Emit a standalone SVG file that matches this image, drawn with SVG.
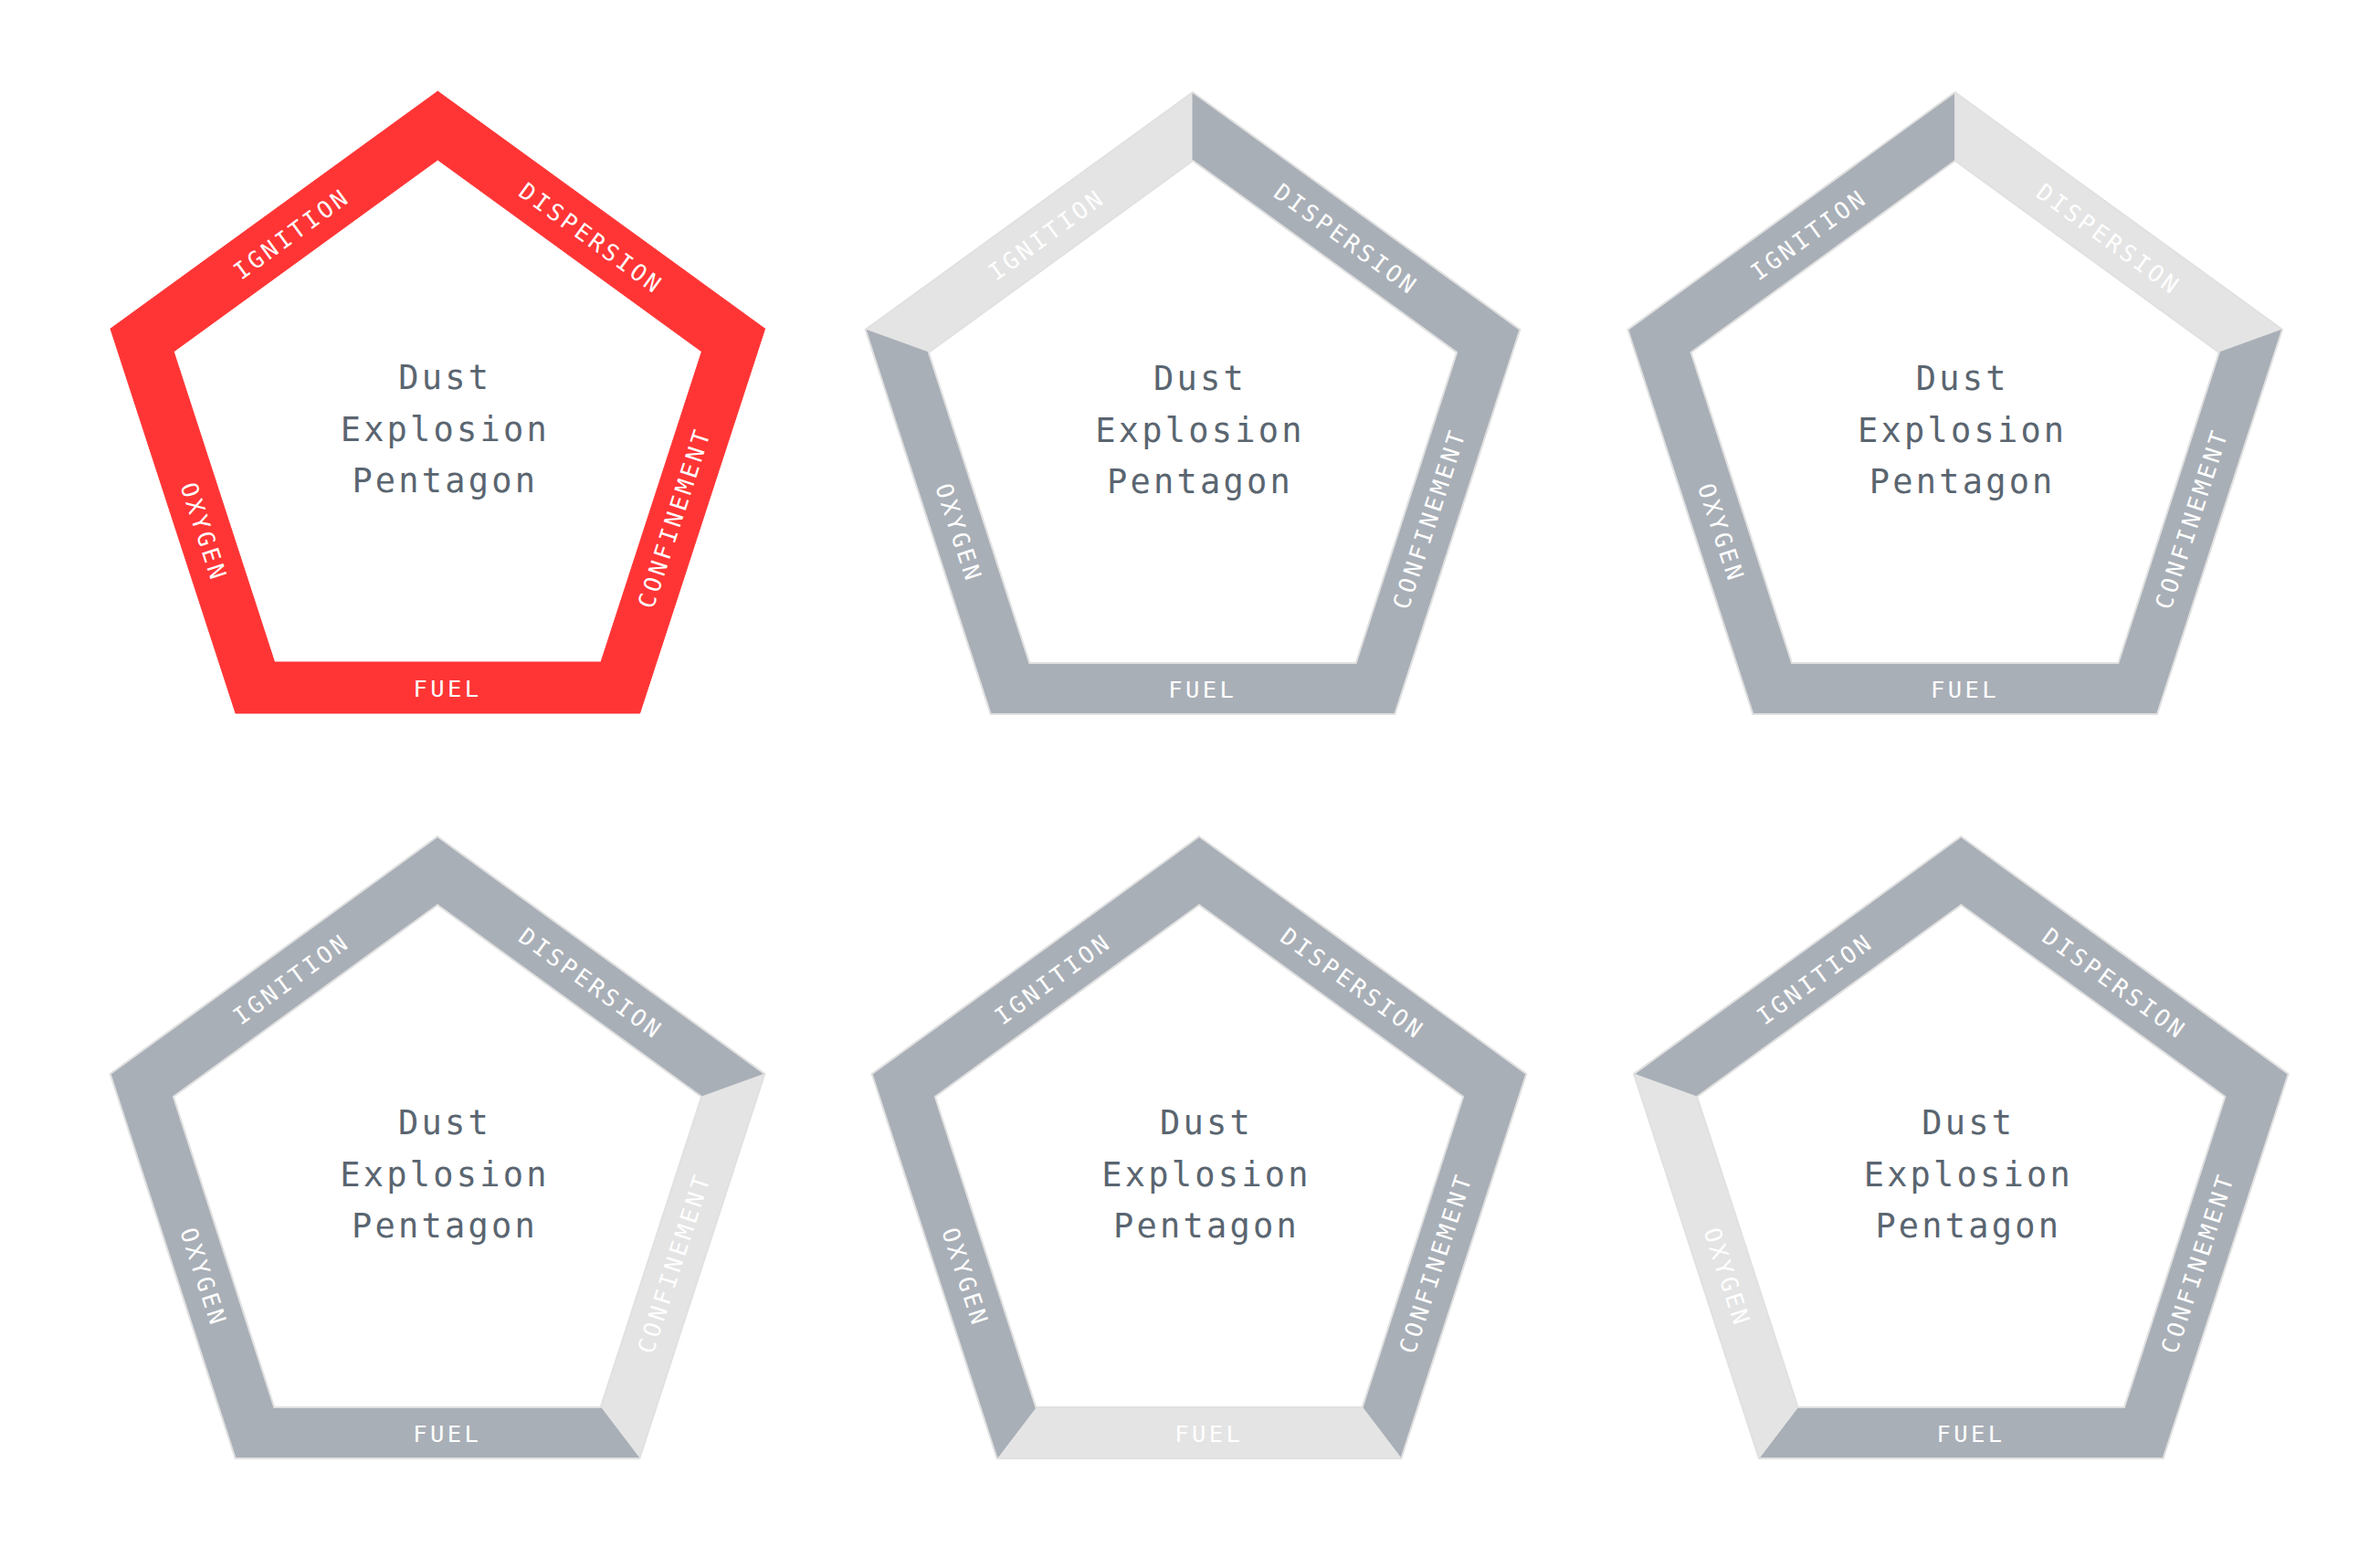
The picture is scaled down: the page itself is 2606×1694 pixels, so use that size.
<svg xmlns="http://www.w3.org/2000/svg" width="2606" height="1694" viewBox="0 0 2606 1694">
<style>
.red{fill:#ff3535;stroke:#ff3535;stroke-width:1}
.gry{fill:#a9afb7;stroke:#a9afb7;stroke-width:1}
.lit{fill:#e4e4e4;stroke:#e4e4e4;stroke-width:1}
.edge{fill:none;stroke:#e1e1e1;stroke-width:2;stroke-linejoin:miter}
.lab{font-family:"DejaVu Sans Mono","Liberation Mono",monospace;font-size:25.5px;letter-spacing:3.4px;fill:#ffffff;text-anchor:middle}
.ctr{font-family:"DejaVu Sans Mono","Liberation Mono",monospace;font-size:37px;letter-spacing:3.2px;fill:#5a6570;text-anchor:middle}
</style>
<defs>
<polygon id="sIgn" points="-358.3,260 0,0 0,75 -289.1,285"/>
<polygon id="sDis" points="0,0 358.3,260 289.1,285 0,75"/>
<polygon id="sCon" points="358.3,260 221.3,681 178.7,625 289.1,285"/>
<polygon id="sFue" points="221.3,681 -221.3,681 -178.7,625 178.7,625"/>
<polygon id="sOxy" points="-221.3,681 -358.3,260 -289.1,285 -178.7,625"/>
<path id="ring" d="M0,0 L358.3,260 L221.3,681 L-221.3,681 L-358.3,260 Z M0,75 L-289.1,285 L-178.7,625 L178.7,625 L289.1,285 Z"/>
<g id="labels">
<text class="lab" transform="translate(-161.4,157) rotate(-36)" x="1.7" y="9">IGNITION</text>
<text class="lab" transform="translate(166.8,160) rotate(36)" x="1.7" y="9">DISPERSION</text>
<text class="lab" transform="translate(258.6,468.7) rotate(-72)" x="1.7" y="9">CONFINEMENT</text>
<text class="lab" transform="translate(-256.6,481) rotate(72)" x="1.7" y="9">OXYGEN</text>
<text class="lab" transform="translate(9,653.7)" x="1.7" y="9">FUEL</text>
</g>
<g id="center">
<text class="ctr" x="8" y="326">Dust</text>
<text class="ctr" x="8" y="382.7">Explosion</text>
<text class="ctr" x="8" y="439.4">Pentagon</text>
</g>
</defs>

<g id="pentagon-1" transform="translate(479.3,100)">
<use href="#sIgn" class="red"/><use href="#sDis" class="red"/><use href="#sCon" class="red"/><use href="#sFue" class="red"/><use href="#sOxy" class="red"/>
<use href="#labels"/><use href="#center"/>
</g>

<g id="pentagon-2" transform="translate(1306,101)">
<use href="#sIgn" class="lit"/><use href="#sDis" class="gry"/><use href="#sCon" class="gry"/><use href="#sFue" class="gry"/><use href="#sOxy" class="gry"/>
<use href="#ring" class="edge"/>
<use href="#labels"/><use href="#center"/>
</g>

<g id="pentagon-3" transform="translate(2140.7,101)">
<use href="#sIgn" class="gry"/><use href="#sDis" class="lit"/><use href="#sCon" class="gry"/><use href="#sFue" class="gry"/><use href="#sOxy" class="gry"/>
<use href="#ring" class="edge"/>
<use href="#labels"/><use href="#center"/>
</g>

<g id="pentagon-4" transform="translate(479,916)">
<use href="#sIgn" class="gry"/><use href="#sDis" class="gry"/><use href="#sCon" class="lit"/><use href="#sFue" class="gry"/><use href="#sOxy" class="gry"/>
<use href="#ring" class="edge"/>
<use href="#labels"/><use href="#center"/>
</g>

<g id="pentagon-5" transform="translate(1313,916)">
<use href="#sIgn" class="gry"/><use href="#sDis" class="gry"/><use href="#sCon" class="gry"/><use href="#sFue" class="lit"/><use href="#sOxy" class="gry"/>
<use href="#ring" class="edge"/>
<use href="#labels"/><use href="#center"/>
</g>

<g id="pentagon-6" transform="translate(2147.3,916)">
<use href="#sIgn" class="gry"/><use href="#sDis" class="gry"/><use href="#sCon" class="gry"/><use href="#sFue" class="gry"/><use href="#sOxy" class="lit"/>
<use href="#ring" class="edge"/>
<use href="#labels"/><use href="#center"/>
</g>
</svg>
